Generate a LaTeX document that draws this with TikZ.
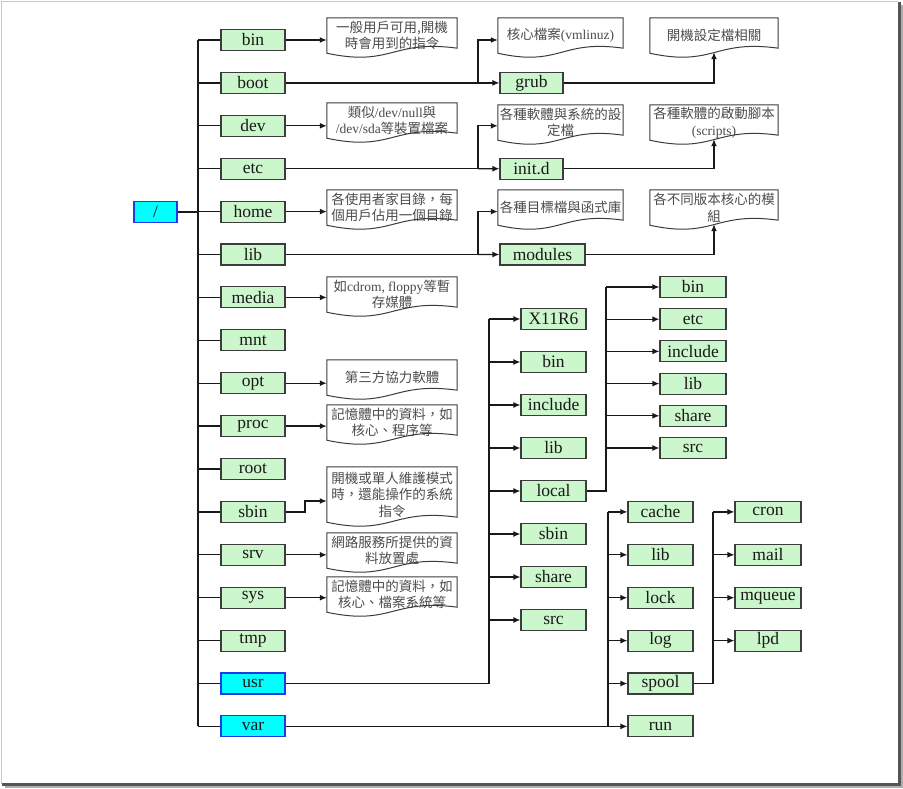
\documentclass[tikz,border=0pt]{standalone}
\usepackage{fontspec}
\setmainfont{Liberation Serif}
\newfontfamily\cjk{Noto Sans CJK TC}
\usetikzlibrary{arrows.meta}
\definecolor{boxgreen}{RGB}{204,246,204}
\definecolor{boxline}{RGB}{60,60,60}
\definecolor{hotfill}{RGB}{0,255,255}
\definecolor{hotline}{RGB}{30,60,230}
\definecolor{linecol}{RGB}{25,25,25}
\definecolor{doctext}{RGB}{75,75,75}
\definecolor{framelight}{RGB}{200,200,200}
\definecolor{frameshadow}{RGB}{85,85,85}
\definecolor{frameshadowb}{RGB}{175,175,175}
\newcommand\lat[1]{{\rmfamily #1}}
\newcommand\docoutline[1]{%
  \draw[docline] (#1.north west) -- (#1.north east) -- ([yshift=5pt]#1.south east)
  .. controls ([yshift=14pt]#1.south) and ([yshift=-14pt]#1.south) .. (#1.south west) -- cycle;}
\begin{document}
\begin{tikzpicture}[x=1pt,y=-1pt,
  dir/.style={draw=boxline, fill=boxgreen, line width=1.1pt, minimum width=64pt, minimum height=21pt, inner sep=0pt, font=\fontsize{17.5}{18}\selectfont, text=black!90},
  hot/.style={dir, draw=hotline, fill=hotfill},
  doc/.style={minimum width=130pt, minimum height=35pt, inner sep=0pt, align=center, font=\cjk\fontsize{13.5}{16.5}\selectfont, text=doctext},
  docline/.style={draw=boxline, line width=1pt},
  conn/.style={draw=linecol, line width=1.3pt},
  arr/.style={conn, -{Latex[length=7pt,width=6pt]}},
  trunk/.style={draw=linecol, line width=1.8pt}]
\useasboundingbox (0,0) rectangle (903,788);
% frame
\fill[frameshadowb] (900.5,5) rectangle (902.5,787.5);
\fill[frameshadowb] (5,785.5) rectangle (902.5,787.5);
\draw[framelight, line width=1.2pt] (1.5,784) -- (1.5,1.5) -- (898,1.5);
\fill[frameshadow] (897.5,2) rectangle (900.5,785.5);
\fill[frameshadow] (2,782.5) rectangle (900.5,785.5);

% left column
\foreach \n [count=\i from 0] in {bin,boot,dev,etc,home,lib,media,mnt,opt,proc,root,sbin,srv,sys,tmp}
  \node[dir] (\n) at (253,{40+42.9*\i}) {\n};
\node[hot] (usr) at (253,683.5) {usr};
\node[hot] (var) at (253,726.4) {var};
\node[hot, minimum width=43pt] (rt) at (155.5,211.6) {/};

\coordinate (tk) at (198,0);
\draw[trunk] (bin.west -| tk) -- (var.west -| tk);
\draw[trunk] (rt.east) -- (rt.east -| tk);
\foreach \n in {bin,boot,dev,etc,home,lib,media,mnt,opt,proc,root,sbin,srv,sys,tmp,usr,var}
  \draw[conn] (\n.west -| tk) -- (\n.west);

% description documents, left
\node[doc] (dbin) at (392,35.5) {一般用戶可用,開機\\時會用到的指令};
\node[doc] (ddev) at (392,120.5) {類似\lat{/dev/null}與\\\lat{/dev/sda}等裝置檔案};
\node[doc] (dhome) at (392,207.5) {各使用者家目錄，每\\個用戶佔用一個目錄};
\node[doc] (dmedia) at (392,294.5) {如\lat{cdrom, floppy}等暫\\存媒體};
\node[doc] (dopt) at (392,377.5) {第三方協力軟體};
\node[doc] (dproc) at (392,422.5) {記憶體中的資料，如\\核心、程序等};
\node[doc, minimum height=55pt] (dsbin) at (392,494.5) {開機或單人維護模式\\時，還能操作的系統\\指令};
\node[doc] (dsrv) at (392,550.5) {網路服務所提供的資\\料放置處};
\node[doc] (dsys) at (392,594.5) {記憶體中的資料，如\\核心、檔案系統等};
\foreach \d in {dbin,ddev,dhome,dmedia,dopt,dproc,dsbin,dsrv,dsys} {\docoutline{\d}}

\foreach \n/\d in {bin/dbin,dev/ddev,home/dhome,media/dmedia,opt/dopt,proc/dproc,srv/dsrv,sys/dsys}
  \draw[arr] (\n.east) -- (\n.east -| \d.west);
\coordinate (sbj) at (305,501);
\draw[arr] (sbin.east) -| (sbj) -- (sbj -| dsbin.west);

% boot / etc / lib sub level
\node[dir, minimum width=63pt] (grub) at (531.5,82.9) {grub};
\node[dir, minimum width=63pt] (initd) at (531.5,168.7) {init.d};
\node[dir, minimum width=85pt] (modules) at (542.5,254.5) {modules};

\node[doc, minimum width=125pt] (dvml) at (560.5,35.5) {核心檔案\lat{(vmlinuz)}};
\node[doc, minimum width=128pt] (dgrub) at (714,35.5) {開機設定檔相關};
\node[doc, minimum width=125pt] (dconf) at (560.5,122.5) {各種軟體與系統的設\\定檔};
\node[doc, minimum width=128pt] (dscr) at (714,122.5) {各種軟體的啟動腳本\\\lat{(scripts)}};
\node[doc, minimum width=125pt] (dlibs) at (560.5,207.5) {各種目標檔與函式庫};
\node[doc, minimum width=128pt] (dmod) at (714,207.5) {各不同版本核心的模\\組};
\foreach \d in {dvml,dgrub,dconf,dscr,dlibs,dmod} {\docoutline{\d}}

\coordinate (jb) at (478,0);
\foreach \p/\c/\d/\r/\e in {boot/grub/dvml/bin/dgrub, etc/initd/dconf/dev/dscr, lib/modules/dlibs/home/dmod} {
  \draw[conn] (\p.east) -- (\p.east -| jb);
  \draw[arr] (\p.east -| jb) -- (\c.west);
  \draw[arr] (\p.east -| jb) |- (\d.west |- \r);
  \draw[arr] (\c.east) -| ([yshift=1pt]\e.south);
}

% usr
\foreach \n/\t [count=\i from 0] in {x11/X11R6, ub/bin, uinc/include, ulib/lib, local/local, usb/sbin, ush/share, usrc/src}
  \node[dir, minimum width=65pt] (\n) at (553.5,{319+43*\i}) {\t};
\coordinate (ju) at (489,0);
\draw[conn] (usr.east) -- (usr.east -| ju) -- (x11.west -| ju);
\foreach \n in {x11,ub,uinc,ulib,local,usb,ush,usrc}
  \draw[arr] (\n.west -| ju) -- (\n.west);

% usr/local
\foreach \n/\t [count=\i from 0] in {lb/bin, le/etc, linc/include, ll/lib, lsh/share, lsrc/src}
  \node[dir, minimum width=66pt] (\n) at (693,{287+32.2*\i}) {\t};
\coordinate (jl) at (606,0);
\draw[conn] (local.east) -| (lb.west -| jl);
\foreach \n in {lb,le,linc,ll,lsh,lsrc}
  \draw[arr] (\n.west -| jl) -- (\n.west);

% var
\foreach \n/\t/\y in {cache/cache/511.9, vlib/lib/554.8, lock/lock/597.7, log/log/640.6, spool/spool/683.5, run/run/726.4}
  \node[dir, minimum width=65pt] (\n) at (660.5,\y) {\t};
\coordinate (jv) at (608,0);
\draw[conn] (var.east) -- (run.west -| jv) -- (cache.west -| jv);
\foreach \n in {cache,vlib,lock,log,spool,run}
  \draw[arr] (\n.west -| jv) -- (\n.west);

% var/spool
\foreach \n/\t/\y in {cron/cron/511.9, mail/mail/554.8, mq/mqueue/597.7, lpd/lpd/640.6}
  \node[dir, minimum width=66pt] (\n) at (768,\y) {\t};
\coordinate (js) at (713,0);
\draw[conn] (spool.east) -| (cron.west -| js);
\foreach \n in {cron,mail,mq,lpd}
  \draw[arr] (\n.west -| js) -- (\n.west);
\end{tikzpicture}
\end{document}
